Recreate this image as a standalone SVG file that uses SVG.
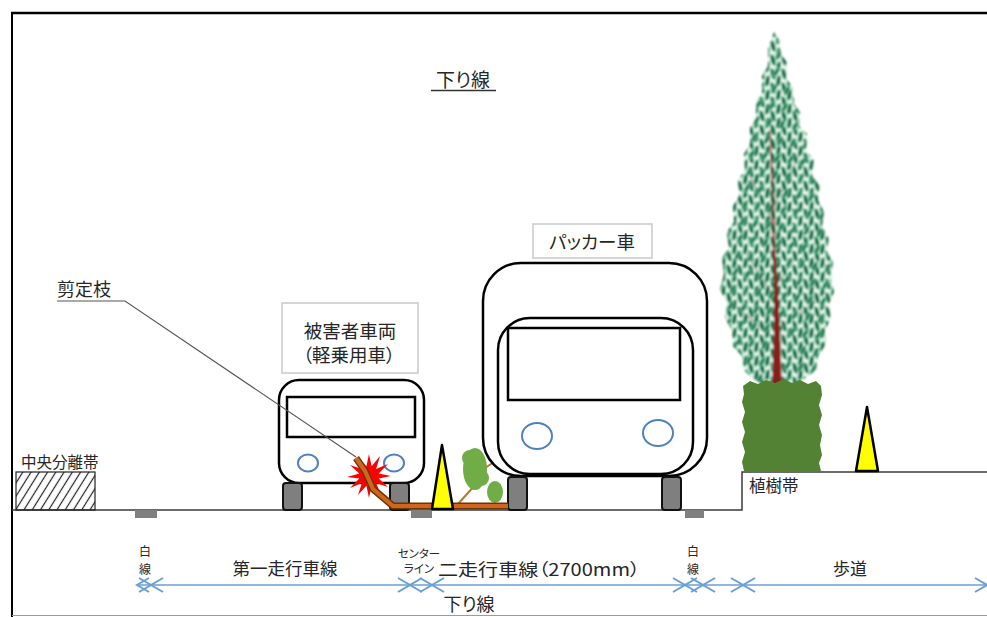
<svg xmlns="http://www.w3.org/2000/svg" width="987" height="617" viewBox="0 0 987 617">
  <style>
    text { font-family: "Noto Sans CJK JP", "Noto Sans", sans-serif; fill: #262626; font-feature-settings: "palt"; dominant-baseline: central; }
    .lbl { font-size: 18.5px; text-anchor: middle; }
    .dim { font-size: 17px; text-anchor: middle; }
    .tiny { font-size: 12px; text-anchor: middle; }
    .box { fill: #fff; stroke: #c9c9c9; stroke-width: 1.5; }
    .body { fill: #fff; stroke: #000; stroke-width: 2.5; }
    .wheel { fill: #7f7f7f; stroke: #111; stroke-width: 2; }
    .lamp { fill: #fff; stroke: #4f81bd; stroke-width: 2; }
    .mark { fill: #808080; }
    .ground { fill: none; stroke: #3a3a3a; stroke-width: 1.5; }
    .cone { fill: #ffff00; stroke: #000; stroke-width: 2.5; stroke-linejoin: round; }
    .dline { fill: none; stroke: #6a9fd4; stroke-width: 1.6; }
    .tip { fill: none; stroke: #6a9fd4; stroke-width: 2; }
  </style>
  <defs>
    <pattern id="hatch" width="7" height="7" patternUnits="userSpaceOnUse" patternTransform="rotate(32)">
      <line x1="3.5" y1="0" x2="3.5" y2="7" stroke="#222" stroke-width="1.2"/>
    </pattern>
    <!-- foliage: two offset leaf layers -->
    <pattern id="leaves" width="11" height="14" patternUnits="userSpaceOnUse">
      <g fill="#1b6140" stroke="#74cfa4" stroke-width="1">
        <ellipse cx="3" cy="4" rx="2.3" ry="5.6" transform="rotate(-16 3 4)"/>
        <ellipse cx="8.5" cy="11" rx="2.3" ry="5.6" transform="rotate(12 8.5 11)"/>
        <ellipse cx="8.5" cy="-3" rx="2.3" ry="5.6" transform="rotate(12 8.5 -3)"/>
        <ellipse cx="3" cy="18" rx="2.3" ry="5.6" transform="rotate(-16 3 18)"/>
      </g>
    </pattern>
    <pattern id="leaves2" width="13" height="17" patternUnits="userSpaceOnUse" patternTransform="translate(5 7) rotate(8)">
      <g fill="#22704a" stroke="#8adbb6" stroke-width="0.9">
        <ellipse cx="6" cy="8" rx="2.1" ry="5.2" transform="rotate(20 6 8)"/>
      </g>
    </pattern>
    <path id="crown" d="M774,32 L779,40 L781,55 L787,62 L786,78 L793,88 L794,104 L800,112 L799,126 L807,134 L806,150 L814,160 L812,176 L820,186 L818,200 L824,212 L822,226 L829,236 L827,252 L833,262 L831,278 L834,292 L829,304 L831,318 L825,330 L826,344 L818,356 L816,370 L800,382 L790,386 L765,386 L752,378 L744,370 L742,356 L733,346 L732,330 L725,318 L727,302 L720,290 L724,274 L722,258 L729,248 L727,232 L734,222 L733,206 L739,196 L738,180 L745,170 L744,154 L750,144 L750,128 L756,118 L756,102 L762,92 L762,76 L768,66 L768,48 Z"/>
    <filter id="soft" x="-10%" y="-10%" width="120%" height="120%">
      <feGaussianBlur stdDeviation="0.8"/>
    </filter>
  </defs>

  <rect width="987" height="617" fill="#fff"/>

  <!-- frame -->
  <path d="M11,13 H987" stroke="#000" stroke-width="2.5"/>
  <path d="M12,12 V617" stroke="#000" stroke-width="2"/>
  <path d="M12,615.5 H987" stroke="#9a9a9a" stroke-width="1"/>

  <!-- direction title -->
  <g id="title-top">
    <text x="463" y="78" style="font-size:19px" text-anchor="middle">下り線</text>
    <line x1="431" y1="90.5" x2="496" y2="90.5" stroke="#333" stroke-width="1.5"/>
  </g>

  <!-- road surface, median and sidewalk -->
  <g id="road">
    <path class="ground" d="M12,510 H742 V472 H987"/>
    <rect x="16" y="472" width="79" height="38" fill="url(#hatch)" stroke="#222" stroke-width="1.2"/>
    <rect class="mark" x="135" y="510" width="22" height="8"/>
    <rect class="mark" x="411" y="510" width="21" height="8"/>
    <rect class="mark" x="685" y="510" width="19" height="8"/>
    <text x="21" y="461" style="font-size:15.5px">中央分離帯</text>
    <text x="749" y="485" style="font-size:16.5px">植樹帯</text>
  </g>

  <!-- roadside tree and hedge -->
  <g id="planting">
    <g filter="url(#soft)">
      <use href="#crown" fill="#eef9f3"/>
      <g stroke="#7a2a2a" stroke-width="1.2" fill="none" opacity="0.6">
        <path d="M776,300 L744,250"/>
        <path d="M777,285 L812,232"/>
        <path d="M774,225 L748,172"/>
        <path d="M775,205 L801,152"/>
        <path d="M776,340 L740,310"/>
        <path d="M777,330 L818,300"/>
      </g>
      <use href="#crown" fill="url(#leaves)"/>
      <use href="#crown" fill="url(#leaves2)"/>
      <path fill="#8b1a1a" d="M772,388 L782,388 L780,330 L777,270 L775,250 L772,250 L774,270 L774,330 Z"/>
      <path fill="#8b1a1a" opacity="0.5" d="M772,252 L776,252 L774,180 L771,130 L769,130 L771,180 Z"/>
    </g>
    <path fill="#548235" d="M743,386 L750,381 L758,384 L766,380 L775,383 L784,379 L792,383 L800,380 L808,384 L816,381 L821,386 L822,395 L819,405 L822,415 L819,425 L822,435 L820,445 L822,455 L819,463 L821,471 L744,471 L742,462 L745,452 L742,442 L745,432 L742,422 L745,412 L742,402 L744,394 Z"/>
  </g>

  <!-- traffic cone on the sidewalk -->
  <g id="cone-sidewalk">
    <polygon class="cone" points="867,407 878,471 856,471"/>
  </g>

  <!-- small green shrub between the lanes -->
  <g id="shrub">
    <g stroke="#c0732b" stroke-width="2" fill="none">
      <path d="M458,504 L476,484"/>
      <path d="M482,470 L494,462"/>
    </g>
    <g fill="#70ad47">
      <ellipse cx="475" cy="469" rx="12" ry="21"/>
      <circle cx="470" cy="458" r="8"/>
      <circle cx="481" cy="478" r="8"/>
      <ellipse cx="495" cy="492" rx="8" ry="11"/>
    </g>
  </g>

  <!-- victim vehicle (light car) -->
  <g id="car">
    <rect class="body" x="279" y="380" width="145" height="103" rx="20"/>
    <rect fill="#fff" stroke="#000" stroke-width="2.5" x="287" y="397" width="128" height="40"/>
    <ellipse class="lamp" cx="308" cy="463" rx="10" ry="8.5"/>
    <ellipse class="lamp" cx="394" cy="463" rx="10" ry="8.5"/>
    <rect class="wheel" x="283" y="483" width="19" height="27" rx="3"/>
    <rect class="wheel" x="390" y="483" width="19" height="27" rx="3"/>
  </g>
  <g id="car-label">
    <rect class="box" x="282" y="303" width="136" height="70"/>
    <text class="lbl" x="350" y="330">被害者車両</text>
    <text class="lbl" x="349" y="354">（軽乗用車）</text>
  </g>

  <!-- packer truck -->
  <g id="truck">
    <rect class="body" x="483" y="263" width="224" height="213" rx="38"/>
    <rect class="body" x="498" y="318" width="195" height="156" rx="32"/>
    <rect fill="#fff" stroke="#000" stroke-width="2.5" x="508" y="328" width="172" height="72"/>
    <ellipse class="lamp" cx="537" cy="436" rx="15" ry="13"/>
    <ellipse class="lamp" cx="658" cy="433" rx="15" ry="13"/>
    <rect class="wheel" x="508" y="477" width="19" height="33" rx="3"/>
    <rect class="wheel" x="662" y="477" width="19" height="33" rx="3"/>
  </g>
  <g id="truck-label">
    <rect class="box" x="533" y="224" width="119" height="34"/>
    <text class="lbl" x="592" y="241">パッカー車</text>
  </g>

  <!-- collision burst and fallen branch -->
  <g id="impact">
    <polygon fill="#ff0000" points="391,476 378.7,473.4 388,464 376.1,468.9 380,456 371.6,466.3 369,454 366.4,466.3 357,457 361.9,468.9 350,465 359.3,473.4 347,477 359.3,478.6 350,488 361.9,483.1 358,495 366.4,485.7 369,498 371.6,485.7 381,495 376.1,483.1 388,487 378.7,478.6"/>
  </g>
  <g id="branch">
    <path d="M356,458 L365,471 L373,489 L393,506 L508,506" fill="none" stroke="#6b3506" stroke-width="7"/>
    <path d="M356,458 L365,471 L373,489 L393,506 L508,506" fill="none" stroke="#d0661e" stroke-width="4.2"/>
  </g>

  <!-- traffic cone in the lane, in front of the branch -->
  <g id="cone-lane">
    <polygon class="cone" points="442,445 453,509 432,509"/>
  </g>

  <!-- callout for the branch -->
  <g id="branch-callout">
    <text x="57" y="288" style="font-size:18px">剪定枝</text>
    <path d="M57,301 H125 L356,457" fill="none" stroke="#555" stroke-width="1.1"/>
  </g>

  <!-- lane-width dimension line -->
  <g id="connectors">
    <line class="dline" x1="137" y1="585" x2="986" y2="585"/>
    <g class="tip">
      <path d="M149,578 L137,585 L149,592"/>
      <path d="M139,578 L151,585 L139,592"/>
      <path d="M163,578 L151,585 L163,592"/>
      <path d="M398,578 L410,585 L398,592"/>
      <path d="M422,578 L410,585 L422,592"/>
      <path d="M420,578 L432,585 L420,592"/>
      <path d="M444,578 L432,585 L444,592"/>
      <path d="M673,578 L685,585 L673,592"/>
      <path d="M697,578 L685,585 L697,592"/>
      <path d="M691,578 L703,585 L691,592"/>
      <path d="M715,578 L703,585 L715,592"/>
      <path d="M731,578 L743,585 L731,592"/>
      <path d="M755,578 L743,585 L755,592"/>
      <path d="M975,578 L987,585 L975,592"/>
    </g>
  </g>
  <g id="dim-labels">
    <text class="tiny" x="145" y="550">白</text>
    <text class="tiny" x="145" y="568">線</text>
    <text class="dim" x="285" y="567" style="font-size:17.5px">第一走行車線</text>
    <text class="tiny" x="419" y="553" style="font-size:11.5px">センター</text>
    <text class="tiny" x="419" y="568" style="font-size:11.5px">ライン</text>
    <text x="438" y="568" style="font-size:17px" textLength="202" lengthAdjust="spacingAndGlyphs">二走行車線（2700mm）</text>
    <text class="tiny" x="693" y="550">白</text>
    <text class="tiny" x="693" y="568">線</text>
    <text class="dim" x="850" y="567">歩道</text>
    <text x="469" y="603" style="font-size:18px" text-anchor="middle">下り線</text>
  </g>
</svg>
